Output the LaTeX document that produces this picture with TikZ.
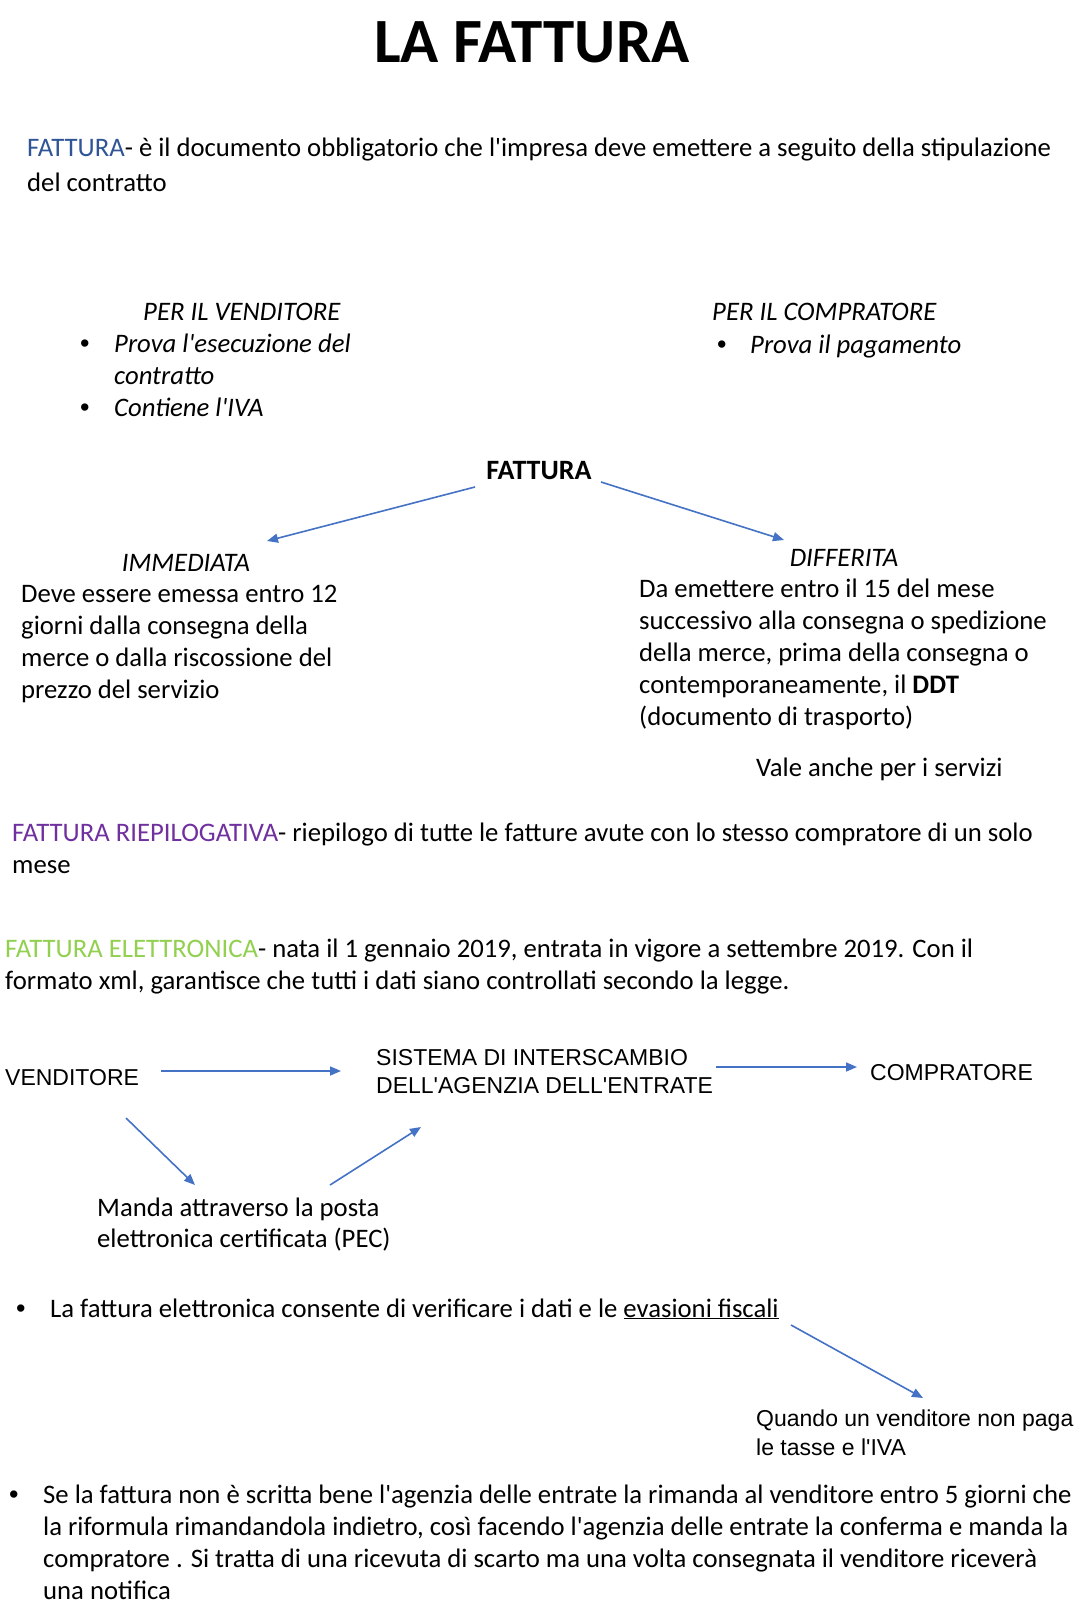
\documentclass[tikz,border=0pt]{standalone}
\usepackage{fontspec}
\setmainfont{Carlito}[Ligatures=TeXOff]
\newfontfamily\arial{Liberation Sans}
\usetikzlibrary{arrows.meta}
\definecolor{arrblue}{HTML}{4472C4}
\definecolor{fblue}{HTML}{2F5597}
\definecolor{fpurple}{HTML}{7030A0}
\definecolor{fgreen}{HTML}{92D050}
\newcommand{\blt}{\makebox[34pt][l]{\arial\fontsize{27}{27}\selectfont •}}
\begin{document}
\begin{tikzpicture}[x=1pt,y=-1pt,
  txt/.style={anchor=base west,inner sep=0pt,align=left,font=\fontsize{26.7}{32}\selectfont},
  atxt/.style={anchor=base west,inner sep=0pt,align=left,font=\arial\fontsize{23}{29}\selectfont},
  arr/.style={draw=arrblue,line width=1.6pt,-{Triangle[length=11pt,width=9pt]}}]
\useasboundingbox[fill=white] (0,0) rectangle (1080,1600);

\node[anchor=base,inner sep=0pt,font=\bfseries\fontsize{63}{63}\selectfont] (title) at (532,63) {LA FATTURA};

% multi-line nodes are placed at the baseline of their LAST line
\node[txt,font=\fontsize{26.7}{35}\selectfont] (def) at (27,191)
  {\textcolor{fblue}{FATTURA}- è il documento obbligatorio che l'impresa deve emettere a seguito della stipulazione\\del contratto};

\node[txt] (vend) at (80,416)
  {\hspace*{63pt}\textit{PER IL VENDITORE}\\
   \blt\textit{Prova l'esecuzione del}\\
   \hspace*{34pt}\textit{contratto}\\
   \blt\textit{Contiene l'IVA}};

\node[txt,font=\fontsize{26.7}{33}\selectfont] (compr) at (712,353)
  {\textit{PER IL COMPRATORE}\\
   \hspace*{5pt}\makebox[33pt][l]{\arial\fontsize{27}{27}\selectfont •}\textit{Prova il pagamento}};

\node[anchor=base,inner sep=0pt,font=\bfseries\fontsize{28}{28}\selectfont] (fat) at (539,479) {FATTURA};

\node[anchor=base,inner sep=0pt,font=\itshape\fontsize{26.7}{32}\selectfont] (imm) at (186,571) {IMMEDIATA};
\node[txt] (immt) at (21,698)
  {Deve essere emessa entro 12\\giorni dalla consegna della\\merce o dalla riscossione del\\prezzo del servizio};

\node[anchor=base,inner sep=0pt,font=\itshape\fontsize{26.7}{32}\selectfont] (dif) at (844,566) {DIFFERITA};
\node[txt] (dift) at (639,725)
  {Da emettere entro il 15 del mese\\successivo alla consegna o spedizione\\della merce, prima della consegna o\\contemporaneamente, il \textbf{DDT}\\(documento di trasporto)};

\node[txt] (vale) at (756,776) {Vale anche per i servizi};

\node[txt] (riep) at (12,873)
  {\textcolor{fpurple}{FATTURA RIEPILOGATIVA}- riepilogo di tutte le fatture avute con lo stesso compratore di un solo\\mese};

\node[txt] (elet) at (5,989)
  {\textcolor{fgreen}{FATTURA ELETTRONICA}- nata il 1 gennaio 2019, entrata in vigore a settembre 2019. Con il\\formato xml, garantisce che tutti i dati siano controllati secondo la legge.};

\node[atxt] (venditore) at (5,1085) {VENDITORE};
\node[atxt,font=\arial\fontsize{23}{28}\selectfont] (sdi) at (376,1093) {SISTEMA DI INTERSCAMBIO\\DELL'AGENZIA DELL'ENTRATE};
\node[atxt] (compratore) at (870,1080) {COMPRATORE};

\node[txt,font=\fontsize{26.7}{31}\selectfont] (pec) at (97,1247) {Manda attraverso la posta\\elettronica certificata (PEC)};

\node[txt] (verif) at (16,1317)
  {\blt La fattura elettronica consente di verificare i dati e le \underline{evasioni fiscali}};

\node[atxt] (quando) at (756,1455) {Quando un venditore non paga\\le tasse e l'IVA};

\node[txt] (scarto) at (9,1599)
  {\blt Se la fattura non è scritta bene l'agenzia delle entrate la rimanda al venditore entro 5 giorni che\\
   \hspace*{34pt}la riformula rimandandola indietro, così facendo l'agenzia delle entrate la conferma e manda la\\
   \hspace*{34pt}compratore . Si tratta di una ricevuta di scarto ma una volta consegnata il venditore riceverà\\
   \hspace*{34pt}una notifica};

% connector end points
\coordinate (fatL) at (475,487);
\coordinate (immT) at (267,541);
\coordinate (fatR) at (601,482);
\coordinate (difT) at (784,540);
\coordinate (venR) at (161,1071);
\coordinate (sdiL) at (341,1071);
\coordinate (sdiR) at (716,1067);
\coordinate (comL) at (857,1067);
\coordinate (venB) at (126,1118);
\coordinate (pecT) at (195,1185);
\coordinate (pecR) at (330,1185);
\coordinate (sdiB) at (421,1127);
\coordinate (evaR) at (791,1325);
\coordinate (quaT) at (923,1398);

\draw[arr] (fatL) -- (immT);
\draw[arr] (fatR) -- (difT);
\draw[arr] (venR) -- (sdiL);
\draw[arr] (sdiR) -- (comL);
\draw[arr] (venB) -- (pecT);
\draw[arr] (pecR) -- (sdiB);
\draw[arr] (evaR) -- (quaT);
\end{tikzpicture}
\end{document}
